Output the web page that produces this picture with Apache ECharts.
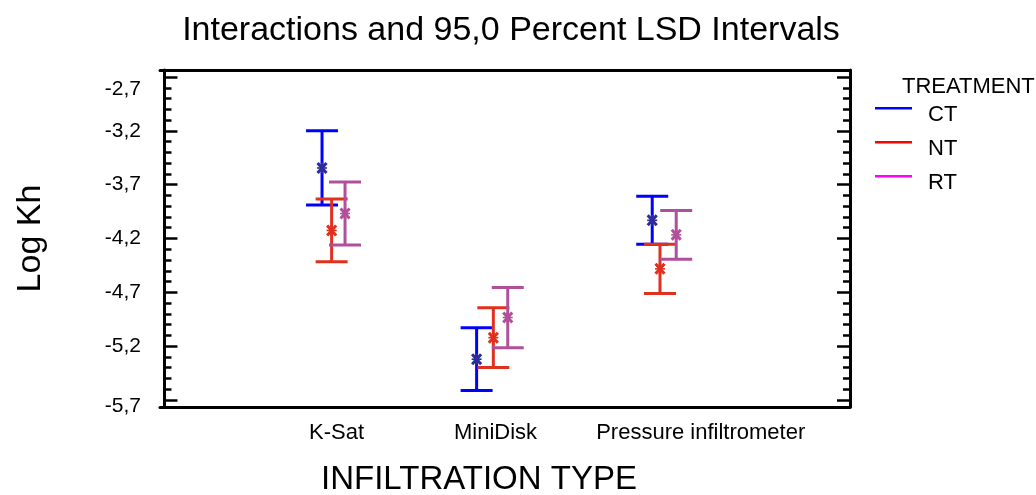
<!DOCTYPE html>
<html>
<head>
<meta charset="utf-8">
<script src="https://cdn.jsdelivr.net/npm/echarts@6/dist/echarts.min.js"></script>
<style>
  html, body { margin: 0; padding: 0; background: #ffffff; }
  #chart { width: 1036px; height: 495px; }
</style>
</head>
<body>
<div id="chart"></div>
<script>
// Infiltration types (x groups) and treatments (series)
const infiltrationTypes = ['K-Sat', 'MiniDisk', 'Pressure infiltrometer'];
const treatments = ['CT', 'NT', 'RT'];

// Group means of Log Kh and LSD half-widths, per treatment
const ctMeans = [-3.545, -5.321, -4.031];
const ctHalfWidths = [0.345, 0.291, 0.223];
const ntMeans = [-4.125, -5.121, -4.482];
const ntHalfWidths = [0.292, 0.278, 0.228];
const rtMeans = [-3.968, -4.934, -4.166];
const rtHalfWidths = [0.292, 0.280, 0.226];

// Y-axis tick values
const yTickValues = [-5.7, -5.2, -4.7, -4.2, -3.7, -3.2, -2.7];

// ---- layout ----
const FONT = "'Liberation Sans', Arial, sans-serif";
const yMin = -5.765, yMax = -2.635;
const xMin = -0.027, xMax = 4.142;
// horizontal dodge of each treatment inside a group (category units)
const dodge = {
  CT: [-0.048, -0.114, -0.053],
  NT: [0.010, -0.013, -0.006],
  RT: [0.091, 0.074, 0.092]
};
const xLabelPositions = [1.04, 2.0, 3.24];
const legendColors = { CT: '#0000ff', NT: '#ff0000', RT: '#ff00ff' };
const barColors = { CT: '#0000ff', NT: '#e0301e', RT: '#b0509a' };
const markerColors = { CT: '#2c2c9c', NT: '#e0301e', RT: '#b0509a' };

const seriesValues = {
  CT: { means: ctMeans, half: ctHalfWidths },
  NT: { means: ntMeans, half: ntHalfWidths },
  RT: { means: rtMeans, half: rtHalfWidths }
};

// minor ticks every 0.1 between the major ticks
const minorTicks = [];
for (let i = 0; i <= 30; i++) {
  const v = Math.round((-5.7 + i * 0.1) * 10) / 10;
  if (!yTickValues.some(t => Math.abs(t - v) < 1e-9)) minorTicks.push(v);
}

function seg(x1, y1, x2, y2, color, w) {
  return { type: 'line', shape: { x1, y1, x2, y2 }, style: { stroke: color, lineWidth: w } };
}

function makeRenderer(name) {
  return function (params, api) {
    const x = api.value(0), m = api.value(1), h = api.value(2);
    const top = api.coord([x, m + h]);
    const bot = api.coord([x, m - h]);
    const mid = api.coord([x, m]);
    const cap = 16, s = 4.5;
    const c = barColors[name], mc = markerColors[name];
    return {
      type: 'group',
      children: [
        seg(top[0], top[1], bot[0], bot[1], c, 3),
        seg(top[0] - cap, top[1], top[0] + cap, top[1], c, 3),
        seg(bot[0] - cap, bot[1], bot[0] + cap, bot[1], c, 3),
        seg(mid[0] - s, mid[1] - s - 0.5, mid[0] + s, mid[1] + s + 0.5, mc, 3),
        seg(mid[0] - s, mid[1] + s + 0.5, mid[0] + s, mid[1] - s - 0.5, mc, 3),
        seg(mid[0] - s - 0.5, mid[1], mid[0] + s + 0.5, mid[1], mc, 1.6),
        seg(mid[0], mid[1] - 5.5, mid[0], mid[1] + 5.5, mc, 2.4)
      ]
    };
  };
}

const series = treatments.map(name => ({
  name: name,
  type: 'custom',
  xAxisIndex: 0,
  yAxisIndex: 0,
  itemStyle: { color: legendColors[name] },
  renderItem: makeRenderer(name),
  encode: { x: 0, y: 1 },
  data: infiltrationTypes.map((t, i) => [
    i + 1 + dodge[name][i],
    seriesValues[name].means[i],
    seriesValues[name].half[i]
  ])
}));

const frameLine = { show: true, lineStyle: { color: '#000', width: 3 } };

function yLabel(v) {
  const s = v.toFixed(1).replace('.', ',');
  if (Math.abs(v - yTickValues[yTickValues.length - 1]) < 1e-9) return '{top|' + s + '}';
  if (Math.abs(v - yTickValues[0]) < 1e-9) return '{bot|' + s + '}';
  return '{n|' + s + '}';
}

const labelRich = {
  n: { fontSize: 21, fontFamily: FONT, color: '#000' },
  top: { fontSize: 21, fontFamily: FONT, color: '#000', padding: [24, 0, 0, 0] },
  bot: { fontSize: 21, fontFamily: FONT, color: '#000', padding: [12, 0, 0, 0] }
};

const option = {
  animation: false,
  backgroundColor: '#ffffff',
  textStyle: { fontFamily: FONT },
  title: [
    {
      text: 'Interactions and 95,0 Percent LSD Intervals',
      left: 506, top: 9, textAlign: 'center',
      textStyle: { fontFamily: FONT, fontSize: 34, fontWeight: 'normal', color: '#000' }
    },
    {
      text: 'TREATMENT',
      left: 897, top: 71,
      textStyle: { fontFamily: FONT, fontSize: 22, fontWeight: 'normal', color: '#000' }
    }
  ],
  legend: {
    orient: 'vertical',
    left: 875, top: 104,
    padding: 0,
    itemGap: 12,
    itemWidth: 37, itemHeight: 16,
    selectedMode: false,
    icon: 'path://M0,0h37v2.6h-37zM0,16h0.01v0.01h-0.01z',
    textStyle: { fontFamily: FONT, fontSize: 22, color: '#000', lineHeight: 22, padding: [0, 0, 0, 11] },
    data: treatments.map(n => ({ name: n, itemStyle: { color: legendColors[n] } }))
  },
  grid: { left: 160, right: 186, top: 70, bottom: 88, containLabel: false, outerBoundsMode: 'none' },
  xAxis: [
    {
      type: 'value', position: 'bottom', min: xMin, max: xMax,
      axisLine: frameLine,
      axisTick: { show: false },
      splitLine: { show: false },
      axisLabel: {
        customValues: xLabelPositions,
        margin: 15,
        fontSize: 22, fontFamily: FONT, color: '#000',
        formatter: v => {
          const i = xLabelPositions.findIndex(p => Math.abs(p - v) < 1e-6);
          return i >= 0 ? infiltrationTypes[i] : '';
        }
      },
      name: 'INFILTRATION TYPE',
      nameLocation: 'middle',
      nameGap: 56,
      nameTextStyle: { fontFamily: FONT, fontSize: 33, color: '#000', padding: [0, 52, 0, 0] }
    },
    {
      type: 'value', position: 'top', min: xMin, max: xMax,
      axisLine: frameLine,
      axisTick: { show: false },
      axisLabel: { show: false },
      splitLine: { show: false }
    }
  ],
  yAxis: [
    {
      type: 'value', position: 'left', min: yMin, max: yMax,
      axisLine: frameLine,
      axisTick: { show: true, inside: true, length: 13, customValues: yTickValues, lineStyle: { color: '#000', width: 2.5 } },
      axisLabel: { customValues: yTickValues, margin: 19, formatter: yLabel, rich: labelRich },
      splitLine: { show: false },
      name: 'Log Kh',
      nameLocation: 'middle',
      nameGap: 112,
      nameTextStyle: { fontFamily: FONT, fontSize: 34, color: '#000' }
    },
    {
      type: 'value', position: 'left', min: yMin, max: yMax,
      axisLine: { show: false },
      axisTick: { show: true, inside: true, length: 7, customValues: minorTicks, lineStyle: { color: '#000', width: 2.5 } },
      axisLabel: { show: false },
      splitLine: { show: false }
    },
    {
      type: 'value', position: 'right', min: yMin, max: yMax,
      axisLine: frameLine,
      axisTick: { show: true, inside: true, length: 13, customValues: yTickValues, lineStyle: { color: '#000', width: 2.5 } },
      axisLabel: { show: false },
      splitLine: { show: false }
    },
    {
      type: 'value', position: 'right', min: yMin, max: yMax,
      axisLine: { show: false },
      axisTick: { show: true, inside: true, length: 7, customValues: minorTicks, lineStyle: { color: '#000', width: 2.5 } },
      axisLabel: { show: false },
      splitLine: { show: false }
    }
  ],
  series: series
};

const chart = echarts.init(document.getElementById('chart'), null, { renderer: 'canvas' });
chart.setOption(option);
</script>
</body>
</html>
